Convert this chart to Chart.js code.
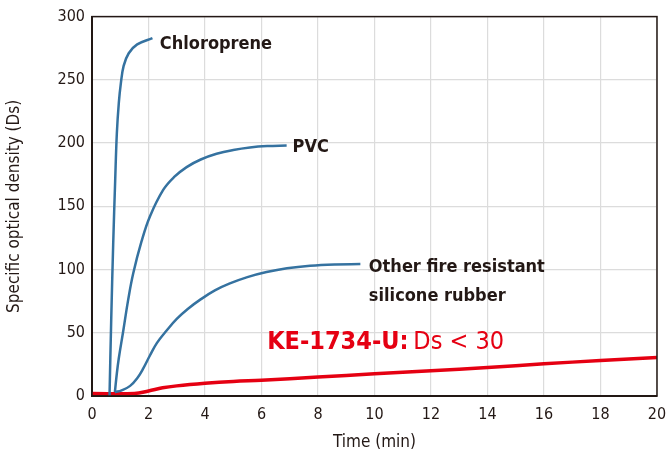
<!DOCTYPE html>
<html lang="en">
<head>
    <meta charset="UTF-8">
    <title>Smoke density</title>
    <script src="https://cdn.jsdelivr.net/npm/chart.js"></script>
    <style>
        html, body { margin: 0; padding: 0; background: #fff; }
        .wrap { width: 667px; height: 457px; }
    </style>
</head>
<body>
    <div class="wrap"><canvas id="smokeChart" width="667" height="457"></canvas></div>

    <script>
        // values (time in min, Ds)
        const chloroTime = [0.62, 0.68, 0.75, 0.82, 0.88, 0.95, 1.02, 1.12, 1.3, 1.6, 2.14];
        const chloroDs   = [0, 60, 120, 170, 208, 232, 247, 261, 271, 278, 283];

        const pvcTime = [0.81, 0.88, 0.95, 1.11, 1.28, 1.46, 1.75, 2.05, 2.52, 2.9, 3.35, 3.85, 4.41, 5.0, 5.59, 6.2, 6.89];
        const pvcDs   = [3, 18, 30, 52, 76, 97, 122, 142, 163, 173, 181, 187, 191.5, 194.5, 196.5, 197.6, 198];

        const otherTime = [0.81, 1.05, 1.35, 1.6, 1.82, 2.05, 2.3, 2.65, 3.0, 3.4, 3.82, 4.35, 4.88, 5.5, 6.18, 6.9, 7.72, 8.6, 9.5];
        const otherDs   = [3, 4.5, 8, 14, 22, 32, 42, 52, 61, 69, 76, 83.5, 89, 94, 98, 101, 103, 104, 104.3];

        const keTime = [0, 1.5, 2, 2.5, 3, 4, 5, 6, 8, 10, 12, 14, 16, 18, 20];
        const keDs   = [2, 2, 4, 6.5, 8, 10, 11.5, 12.5, 15, 17.5, 20, 22.5, 25.5, 28, 30.5];

        const xTicks = [0, 2, 4, 6, 8, 10, 12, 14, 16, 18, 20];
        const yTicks = [0, 50, 100, 150, 200, 250, 300];

        const blue = '#3572a0';
        const red = '#e50012';
        const ink = '#231815';
        const narrow = '"DejaVu Sans Condensed", "Liberation Sans Narrow", sans-serif';

        function pts(xs, ys) {
            return xs.map((x, i) => ({ x: x, y: ys[i] }));
        }

        // text labels placed in data coordinates
        const labelPlugin = {
            id: 'labels',
            afterDatasetsDraw(chart) {
                const c = chart.ctx;
                const xs = chart.scales.x, ys = chart.scales.y;
                const a = chart.chartArea;
                c.save();
                // frame
                c.strokeStyle = ink;
                c.lineWidth = 1.5;
                c.strokeRect(a.left, a.top, a.right - a.left, a.bottom - a.top);

                c.textBaseline = 'middle';
                c.fillStyle = ink;
                c.font = 'bold 18px ' + narrow;
                c.fillText('Chloroprene', xs.getPixelForValue(2.4), ys.getPixelForValue(278));
                c.fillText('PVC', xs.getPixelForValue(7.1), ys.getPixelForValue(197));
                c.fillText('Other fire resistant', xs.getPixelForValue(9.8), ys.getPixelForValue(102));
                c.fillText('silicone rubber', xs.getPixelForValue(9.8), ys.getPixelForValue(79));

                c.fillStyle = red;
                c.font = 'bold 25px ' + narrow;
                const kx = xs.getPixelForValue(6.2), ky = ys.getPixelForValue(42);
                const t1 = 'KE-1734-U: ';
                c.fillText(t1, kx, ky);
                const w = c.measureText(t1).width;
                c.font = '25px ' + narrow;
                c.fillText('Ds < 30', kx + w - 3, ky);
                c.restore();
            }
        };

        const ctx = document.getElementById('smokeChart').getContext('2d');
        new Chart(ctx, {
            type: 'scatter',
            data: {
                datasets: [
                    { label: 'Chloroprene', data: pts(chloroTime, chloroDs), borderColor: blue, borderWidth: 2.5 },
                    { label: 'PVC', data: pts(pvcTime, pvcDs), borderColor: blue, borderWidth: 2.5 },
                    { label: 'Other', data: pts(otherTime, otherDs), borderColor: blue, borderWidth: 2.5 },
                    { label: 'KE-1734-U', data: pts(keTime, keDs), borderColor: red, borderWidth: 3.5 }
                ]
            },
            options: {
                responsive: false,
                animation: false,
                showLine: true,
                elements: {
                    point: { radius: 0 },
                    line: { tension: 0.4, fill: false }
                },
                layout: { padding: { left: 0, right: 0, top: 10, bottom: 0 } },
                plugins: { legend: { display: false }, tooltip: { enabled: false } },
                scales: {
                    x: {
                        type: 'linear', min: 0, max: 20,
                        afterBuildTicks: s => { s.ticks = xTicks.map(v => ({ value: v })); },
                        afterFit: s => { s.height = 61; s.paddingRight = 10; },
                        grid: { color: '#dcdcdc', lineWidth: 1.2, drawTicks: false },
                        border: { color: ink, width: 2 },
                        ticks: { color: ink, font: { family: narrow, size: 16 }, padding: 9 },
                        title: { display: true, text: 'Time (min)', color: ink, font: { family: narrow, size: 17 }, padding: { top: 6 } }
                    },
                    y: {
                        type: 'linear', min: 0, max: 300,
                        afterBuildTicks: s => { s.ticks = yTicks.map(v => ({ value: v })); },
                        afterFit: s => { s.width = 92; },
                        grid: { color: '#dcdcdc', lineWidth: 1.2, drawTicks: false },
                        border: { color: ink, width: 2 },
                        ticks: { color: ink, font: { family: narrow, size: 16 }, padding: 7 },
                        title: { display: true, text: 'Specific optical density (Ds)', color: ink, font: { family: narrow, size: 17 } }
                    }
                }
            },
            plugins: [labelPlugin]
        });
    </script>
</body>
</html>
